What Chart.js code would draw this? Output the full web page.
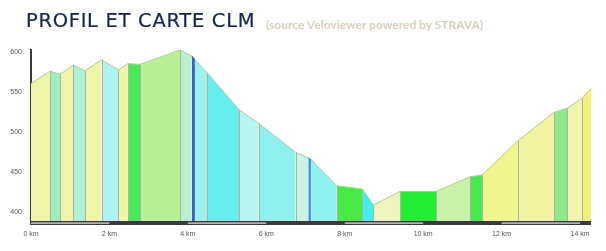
<!DOCTYPE html>
<html>
<head>
<meta charset="utf-8">
<script src="https://cdn.jsdelivr.net/npm/chart.js@4.4.1/dist/chart.umd.min.js"></script>
<style>
  html, body { margin: 0; padding: 0; background: #ffffff; }
  #wrap { position: relative; width: 606px; height: 251px; overflow: hidden; }
  #c { position: absolute; left: 0; top: 0; }
  #title { position: absolute; left: 26px; top: 9px; font-family: "DejaVu Sans", sans-serif; font-size: 19.5px; color: #16264f; letter-spacing: 0.7px; white-space: nowrap; -webkit-text-stroke: 0.2px #16264f; }
  #sub { position: absolute; left: 266px; top: 17px; font-family: Lato, "Liberation Sans", sans-serif; font-weight: bold; font-size: 12px; color: #d8d1bc; white-space: nowrap; }
</style>
</head>
<body>
<div id="wrap">
  <canvas id="c" width="606" height="251"></canvas>
  <div id="title">PROFIL ET CARTE CLM</div>
  <div id="sub">(source Veloviewer powered by STRAVA)</div>
</div>
<script>
// Distance (km) of each profile vertex
const distKm = [0, 0.485, 0.74, 1.08, 1.38, 1.80, 2.23, 2.47, 2.78, 3.80, 4.10, 4.18, 4.50, 5.31, 5.81, 6.75, 7.07, 7.15, 7.80, 8.45, 8.73, 9.41, 10.33, 11.20, 11.50, 12.43, 13.34, 13.67, 14.05, 14.28];
// Elevation (m) at each vertex
const elevM = [561, 576.5, 572.5, 584, 577, 591, 578, 586, 585, 603, 595.5, 591, 574, 528, 511, 475, 468, 465.5, 433, 429, 409, 426, 426, 444.5, 446.5, 490, 525, 530, 542.5, 555];
// Colour of the segment between vertex i and i+1
const segColors = [
  '#eef4a8', '#9eeec0', '#eef4a8', '#b0f0d8', '#eef4a8', '#b0f2f0', '#eef4a8', '#48e858',
  '#b8f098', '#b8f0d0', '#3a62c4', '#a0f0f0', '#66eeee', '#b8f4f0', '#90f0ec', '#c8f4e8',
  '#3f98d8', '#90f0ee', '#48ea48', '#44eef0', '#eef4c0', '#22ee33', '#c8f2a8', '#48e850',
  '#f0f590', '#f0f4a0', '#8ee88a', '#f0f4b0', '#f2f27a'
];
// Segments that are the narrow dark-blue steep stripes
const stripeSegs = [10, 16];
const xTicks = [0, 2, 4, 6, 8, 10, 12, 14];
const yTicks = [400, 450, 500, 550, 600];
const yMin = 389, yMax = 603;

const datasets = segColors.map((col, i) => ({
  data: [{ x: distKm[i], y: elevM[i] }, { x: distKm[i + 1], y: elevM[i + 1] }],
  backgroundColor: col,
  borderColor: stripeSegs.includes(i) ? col : '#b8c6a6',
  borderWidth: 1,
  fill: 'start',
  pointRadius: 0,
  tension: 0,
  order: stripeSegs.includes(i) ? -1 : 0
}));

const separators = {
  id: 'separators',
  afterDatasetsDraw(chart) {
    const { ctx, scales: { x, y }, chartArea } = chart;
    ctx.save();
    ctx.strokeStyle = '#a9b89d';
    ctx.lineWidth = 1;
    for (let i = 1; i < distKm.length - 1; i++) {
      if (stripeSegs.includes(i - 1) || stripeSegs.includes(i)) continue;
      const px = Math.round(x.getPixelForValue(distKm[i])) + 0.5;
      ctx.beginPath();
      ctx.moveTo(px, y.getPixelForValue(elevM[i]));
      ctx.lineTo(px, chartArea.bottom);
      ctx.stroke();
    }
    ctx.restore();
  }
};

const scaleBar = {
  id: 'scaleBar',
  afterDraw(chart) {
    const { ctx, scales: { x }, chartArea } = chart;
    ctx.save();
    ctx.fillStyle = '#3a3a3a';
    ctx.fillRect(chartArea.left - 1, chartArea.bottom, chartArea.right - chartArea.left + 1, 4);
    ctx.fillStyle = '#e4e4e4';
    for (let i = 0; i + 1 < xTicks.length; i += 2) {
      const a = x.getPixelForValue(xTicks[i]);
      const b = x.getPixelForValue(xTicks[i + 1]);
      ctx.fillRect(a, chartArea.bottom + 1.5, b - a, 1.2);
    }
    ctx.restore();
  }
};

new Chart(document.getElementById('c'), {
  type: 'line',
  data: { datasets },
  options: {
    responsive: false,
    animation: false,
    devicePixelRatio: 1,
    layout: { padding: { top: 50, right: 15, left: 0, bottom: 0 } },
    plugins: { legend: { display: false }, tooltip: { enabled: false } },
    scales: {
      x: {
        type: 'linear',
        min: 0,
        max: distKm[distKm.length - 1],
        grid: { display: false, drawTicks: false },
        border: { display: false },
        afterBuildTicks: s => { s.ticks = xTicks.map(v => ({ value: v })); },
        afterFit: s => { s.height = 30; },
        ticks: {
          padding: 9,
          maxRotation: 0,
          autoSkip: false,
          color: '#555',
          font: { family: 'Liberation Sans', size: 7 },
          callback: v => v + ' km'
        }
      },
      y: {
        min: yMin,
        max: yMax,
        grid: { display: false, drawTicks: false },
        border: { display: true, color: '#3a3a3a', width: 2 },
        afterBuildTicks: s => { s.ticks = yTicks.map(v => ({ value: v })); },
        afterFit: s => { s.width = 31; },
        ticks: {
          padding: 9,
          color: '#555',
          font: { family: 'Liberation Sans', size: 7 }
        }
      }
    }
  },
  plugins: [separators, scaleBar]
});
</script>
</body>
</html>
